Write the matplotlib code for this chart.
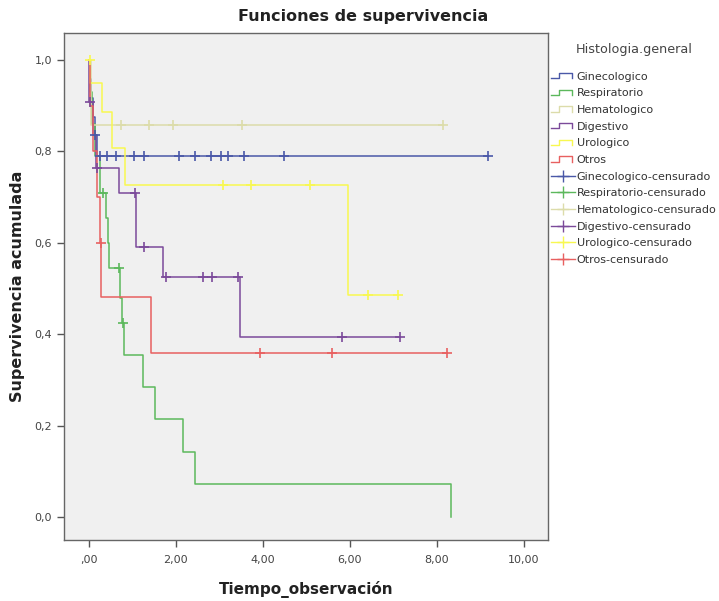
import numpy as np
import matplotlib
matplotlib.use("Agg")
import matplotlib.pyplot as plt
from matplotlib.lines import Line2D
from matplotlib.legend_handler import HandlerBase

# Kaplan-Meier curves (step times, survival, censor times)
gin_t = [0, 0.02, 0.05, 0.10, 0.14, 0.20, 9.17]
gin_s = [1.0, 0.958, 0.917, 0.875, 0.836, 0.79, 0.79]
gin_c = [0.15, 0.25, 0.41, 0.62, 1.03, 1.26, 2.07, 2.44, 2.80, 3.03, 3.20, 3.56, 4.48, 9.17]

resp_t = [0, 0.03, 0.08, 0.15, 0.25, 0.40, 0.44, 0.47, 0.72, 0.76, 0.80, 1.24, 1.52, 2.16, 2.44, 8.32]
resp_s = [1.0, 0.93, 0.86, 0.79, 0.709, 0.654, 0.60, 0.545, 0.48, 0.424, 0.354, 0.284, 0.214, 0.142, 0.072, 0.0]
resp_c = [0.32, 0.69, 0.78]

hem_t = [0, 0.05, 8.14]
hem_s = [1.0, 0.857, 0.857]
hem_c = [0.74, 1.38, 1.93, 3.52, 8.14]

dig_t = [0, 0.01, 0.10, 0.16, 0.69, 1.09, 1.70, 3.47, 7.15]
dig_s = [1.0, 0.909, 0.836, 0.763, 0.709, 0.591, 0.525, 0.394, 0.394]
dig_c = [0.02, 0.18, 1.06, 1.26, 1.77, 2.62, 2.83, 3.43, 5.82, 7.15]

uro_t = [0, 0.03, 0.31, 0.54, 0.83, 5.95, 7.10]
uro_s = [1.0, 0.95, 0.886, 0.807, 0.726, 0.486, 0.486]
uro_c = [0.02, 3.08, 3.72, 5.08, 6.41, 7.10]

otr_t = [0, 0.03, 0.10, 0.18, 0.25, 0.28, 1.43, 8.23]
otr_s = [1.0, 0.9, 0.8, 0.7, 0.6, 0.481, 0.359, 0.359]
otr_c = [0.27, 3.93, 5.59, 8.23]

names = ["Ginecologico", "Respiratorio", "Hematologico", "Digestivo", "Urologico", "Otros"]
curves = [(gin_t, gin_s, gin_c), (resp_t, resp_s, resp_c), (hem_t, hem_s, hem_c),
          (dig_t, dig_s, dig_c), (uro_t, uro_s, uro_c), (otr_t, otr_s, otr_c)]
colors = ["#4a58a8", "#5cb85c", "#dcdcaa", "#7b4a9a", "#f8f850", "#e86060"]

x_ticks = [0, 2, 4, 6, 8, 10]
x_labels = [",00", "2,00", "4,00", "6,00", "8,00", "10,00"]
y_ticks = [0.0, 0.2, 0.4, 0.6, 0.8, 1.0]
y_labels = ["0,0", "0,2", "0,4", "0,6", "0,8", "1,0"]


class StepHandler(HandlerBase):
    def create_artists(self, legend, orig_handle, xdescent, ydescent,
                       width, height, fontsize, trans):
        w, h = width, height
        xs = [-xdescent, 0.35 * w, 0.35 * w, 0.85 * w, 0.85 * w]
        ys = [0.15 * h, 0.15 * h, 0.85 * h, 0.85 * h, 0.15 * h]
        ln = Line2D(xs, ys, color=orig_handle.get_color(), lw=1.0, transform=trans)
        return [ln]


fig = plt.figure(figsize=(7.19, 6.01), dpi=100)
ax = fig.add_axes([0.089, 0.1015, 0.673, 0.8435])
ax.set_facecolor("#f0f0f0")

for (t, s, c), col in zip(curves, colors):
    ax.step(t, s, where="post", color=col, lw=1.1)

for (t, s, c), col in zip(curves, colors):
    idx = np.searchsorted(t, c, side="right") - 1
    cy = np.array(s)[idx]
    ax.plot(c, cy, linestyle="none", marker="+", ms=7, mew=1.2, color=col)

ax.set_xlim(-0.57, 10.55)
ax.set_ylim(-0.05, 1.059)
ax.set_xticks(x_ticks)
ax.set_xticklabels(x_labels)
ax.set_yticks(y_ticks)
ax.set_yticklabels(y_labels)
ax.tick_params(direction="out", length=5, width=1, colors="#555555",
               labelsize=8, labelcolor="#444444", top=False, right=False)
ax.tick_params(axis="x", pad=6)
for sp in ax.spines.values():
    sp.set_color("#666666")
    sp.set_linewidth(1.0)

ax.set_xlabel("Tiempo_observación", fontsize=11, fontweight="bold", color="#222222")
ax.xaxis.set_label_coords(0.5, -0.080)
ax.set_ylabel("Supervivencia acumulada", fontsize=11.5, fontweight="bold", color="#222222")
ax.yaxis.set_label_coords(-0.080, 0.5)

fig.text(0.505, 0.972, "Funciones de supervivencia", ha="center", va="center",
         fontsize=11.5, fontweight="bold", color="#222222")
fig.text(634 / 719, 1 - 50 / 601, "Histologia.general", ha="center", va="center",
         fontsize=9.2, color="#444444")

handles = [Line2D([], [], color=col) for col in colors]
handles += [Line2D([], [], color=col, marker="+", ms=8, lw=1.0) for col in colors]
labels = names + [n + "-censurado" for n in names]
hmap = {h: StepHandler() for h in handles[:6]}
leg = fig.legend(handles, labels, loc="upper left", bbox_to_anchor=(0.766, 0.881),
                 frameon=False, fontsize=8, handlelength=2.2, handletextpad=0.15,
                 labelspacing=0.6, handler_map=hmap, borderaxespad=0.0,
                 borderpad=0.0)
for txt in leg.get_texts():
    txt.set_color("#333333")

fig.savefig("out.png", dpi=100, facecolor="white")
